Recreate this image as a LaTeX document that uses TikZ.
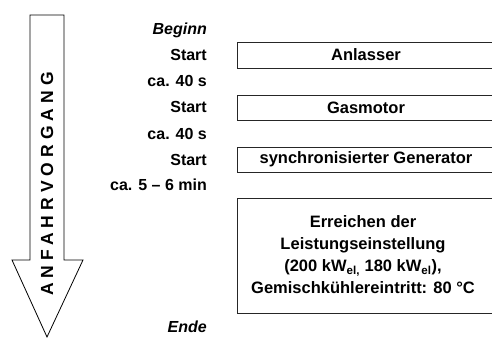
\documentclass[tikz,border=0pt]{standalone}
\usepackage{fontspec}
\setmainfont{Liberation Sans}
\begin{document}
\begin{tikzpicture}[x=1pt,y=-1pt,
  lbl/.style={anchor=east,font=\fontsize{16}{18}\selectfont\bfseries,inner sep=0pt},
  ital/.style={anchor=east,font=\fontsize{16}{18}\selectfont\bfseries\itshape,inner sep=0pt},
  box/.style={draw=black!85,line width=0.9pt,minimum width=258pt,inner sep=0pt,
    font=\fontsize{16.5}{22}\selectfont\bfseries,align=center}]
\useasboundingbox (0,0) rectangle (492,338);
% arrow
\draw[line width=0.8pt,line join=miter] (30,15) -- (64,15) -- (64,260) -- (83,260) -- (47,337)
  -- (12,260) -- (30,260) -- cycle;
\node[rotate=90,inner sep=0pt,font=\fontsize{17.5}{18}\selectfont\bfseries\addfontfeature{LetterSpace=29}] (vorgang) at (47,184) {ANFAHRVORGANG};
% labels
\node[ital] (beginn) at (207,30) {Beginn};
\node[lbl] (s1) at (207,55) {Start};
\node[lbl] (t1) at (207,81) {ca. 40 s};
\node[lbl] (s2) at (207,107) {Start};
\node[lbl] (t2) at (207,134) {ca. 40 s};
\node[lbl] (s3) at (207,160) {Start};
\node[lbl] (t3) at (207,185) {ca. 5 -- 6 min};
\node[ital] (ende) at (207,327) {Ende};
% boxes
\begin{scope}
\clip (0,0) rectangle (492,338);
\node[box,minimum height=26pt] (anl) at (366,55) {Anlasser};
\node[box,minimum height=25pt] (gas) at (366,107.5) {Gasmotor};
\node[box,minimum height=25pt] (gen) at (366,159.5) {synchronisierter Generator};
\node[box,minimum height=115pt] (leist) at (366,255.5) {};
\end{scope}
\node[font=\fontsize{16.5}{22}\selectfont\bfseries,align=center,inner sep=0pt] (leisttext) at (363,255)
 {Erreichen der\\Leistungseinstellung\\(200 kW\textsubscript{el,} 180 kW\textsubscript{el}),\\Gemischkühlereintritt: 80 °C};
\end{tikzpicture}
\end{document}
